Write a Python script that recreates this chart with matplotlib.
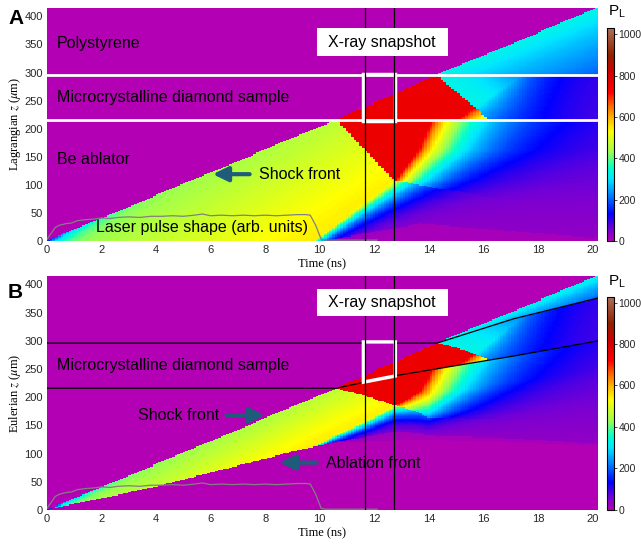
import numpy as np
import matplotlib.pyplot as plt
from matplotlib.colors import LinearSegmentedColormap
from matplotlib.patches import Rectangle, Polygon

plt.rcParams['font.family'] = ['Liberation Sans', 'DejaVu Sans']
plt.rcParams['mathtext.fontset'] = 'stix'

# ---- values ----
time_ticks = [0, 2, 4, 6, 8, 10, 12, 14, 16, 18, 20]
z_ticks = [0, 50, 100, 150, 200, 250, 300, 350, 400]
cbar_ticks = [0, 200, 400, 600, 800, 1000]

# layer boundaries (Lagrangian, um)
be_top = 216.0
diamond_top = 296.0

# shock front (same in both frames)
shock_t = [0.0, 10.6, 14.3, 20.2]
shock_z = [0.0, 216.0, 296.0, 416.0]

# drive pressure in the Be vs emission time
drive_tau = [0.0, 0.3, 0.7, 1.2, 2.0, 3.0, 4.0, 5.0, 6.0, 7.0, 8.0, 9.0, 9.8]
drive_p = [150, 300, 380, 420, 440, 455, 470, 485, 500, 515, 530, 540, 545]
char_speed = 30.0

# reflected shock going back into the Be, and its weak tail below
refl_z = [107.0, 216.0]
refl_t = [12.75, 10.6]
refl_tail_t = [12.75, 20.2]
refl_tail_z = [107.0, 45.0]

# release after laser turn-off (Be)
head_z = [0.0, 107.0, 161.0, 216.0]
head_t = [9.8, 12.75, 13.6, 14.1]
fan_z = [0.0, 50.0, 107.0, 160.0, 216.0]
fan_width = [0.4, 0.7, 1.1, 1.6, 1.8]
end_z = [0.0, 60.0, 107.0, 216.0]
end_p = [30.0, 45.0, 60.0, 70.0]
low_t = [10.2, 13.7, 20.2]
low_z = [0.0, 30.0, 4.0]

# release in the diamond
head_dia_z = [216.0, 296.0]
head_dia_t = [15.0, 17.5]
top_rel_z = [214.0, 296.0]
top_rel_t = [16.3, 14.3]

p_red = 760.0
p_top_ratio = 0.37
p_poly = 330.0

# Eulerian positions of the ablation front and the interfaces
abl_t = [0.0, 4.0, 9.3, 10.5, 13.7, 20.2]
abl_z = [0.0, 41.0, 107.0, 119.0, 125.0, 113.0]
iface1_t = [0.0, 10.6, 12.75, 17.1, 20.2]
iface1_z = [216.0, 216.0, 238.0, 273.0, 300.0]
iface2_t = [0.0, 14.3, 17.1, 20.2]
iface2_z = [296.0, 296.0, 339.0, 376.0]
# how the Be mass is spread between ablation front and interface
warp_t = [0.0, 10.0, 12.75, 14.0, 16.0, 20.2]
warp_p = [1.0, 1.0, 1.15, 0.7, 0.8, 1.0]

# laser pulse shape (drawn in z units)
laser_t = [0, 0.3, 0.45, 0.7, 0.9, 1.1, 1.4, 1.7, 2.0, 2.3, 2.6, 3.0, 3.4, 3.8,
           4.2, 4.6, 5.0, 5.4, 5.7, 6.0, 6.4, 6.8, 7.2, 7.6, 8.0, 8.4, 8.8, 9.2,
           9.5, 9.65, 9.85, 10.05, 10.2, 12.1]
laser_z = [3, 24, 28, 31, 32, 36, 38, 39, 41, 40, 42, 43, 42, 44,
           44, 45, 44, 46, 48, 45, 46, 45, 46, 45, 46, 45, 46, 47,
           47, 46, 28, 3, 1.5, 1.5]

# X-ray snapshot window
snapshot_t = [11.65, 12.72]

# colormap
cmap_levels = [0, 60, 130, 220, 300, 350, 430, 530, 600, 660, 720, 820, 900, 1030]
cmap_colors = ['#b400b4', '#7000d8', '#0000ff', '#0080ff', '#00e8ff', '#00ffd0',
               '#9cff50', '#ffff00', '#ffb000', '#ff6000', '#ff0000', '#d00000',
               '#902000', '#b07058']


def lagrangian_pressure(t, z):
    shock = np.interp(t, shock_t, shock_z)
    # Be ablator: drive, then reflected shock, then release fan
    p_be = np.interp(t - z / char_speed, drive_tau, drive_p)
    t_refl = np.interp(z, refl_z, refl_t)
    boosted = ((z >= refl_z[0]) & (t >= t_refl)) | \
              ((t > refl_tail_t[0]) & (z >= np.interp(t, refl_tail_t, refl_tail_z)))
    p_be = np.where(boosted, p_red, p_be)
    d = np.clip(t - np.interp(z, head_z, head_t), 0, None)
    width = np.interp(z, fan_z, fan_width)
    p_end = np.interp(z, end_z, end_p)
    p_be = p_end + (p_be - p_end) * np.exp(-(d / width) ** 0.85)
    p_be = np.where(z < np.interp(t, low_t, low_z), 0.4 * p_be, p_be)
    # diamond
    d_f = np.clip(t - np.interp(z, head_dia_z, head_dia_t), 0, None)
    r_f = np.exp(-(d_f / 2.5) ** 0.85)
    d_t = t - np.interp(z, top_rel_z, top_rel_t)
    r_t = np.where(d_t > 0,
                   p_top_ratio * (0.35 + 0.65 * np.exp(-(np.clip(d_t, 0, None) / 3.5) ** 2)),
                   1.0)
    p_dia = 70.0 + (p_red - 70.0) * r_f * r_t
    # polystyrene
    d_s = np.clip(t - np.interp(z, shock_z, shock_t), 0, None)
    p_ps = p_poly * np.exp(-d_s / 12.0)

    p = np.where(z < be_top, p_be, np.where(z < diamond_top, p_dia, p_ps))
    return np.where(z <= shock, p, 0.0)


def eulerian_pressure(t, z):
    eps = 1e-9
    a = np.interp(t, abl_t, abl_z)
    s = np.interp(t, shock_t, shock_z)
    i1 = np.interp(t, iface1_t, iface1_z)
    i2 = np.interp(t, iface2_t, iface2_z)
    pw = np.interp(t, warp_t, warp_p)
    zl = z.copy()
    # Be layer
    top_e = np.minimum(i1, s)
    top_l = np.minimum(be_top, s)
    frac = np.clip((z - a) / (top_e - a + eps), 0, 1)
    zl = np.where((z >= a) & (z <= top_e), top_l * frac ** pw, zl)
    # diamond layer
    top_e = np.minimum(i2, s)
    top_l = np.minimum(diamond_top, s)
    frac = np.clip((z - i1) / (top_e - i1 + eps), 0, 1)
    zl = np.where((s > be_top) & (z > i1) & (z <= top_e),
                  be_top + frac * (top_l - be_top), zl)
    # polystyrene
    frac = np.clip((z - i2) / (s - i2 + eps), 0, 1)
    zl = np.where((s > diamond_top) & (z > i2) & (z <= s),
                  diamond_top + frac * (s - diamond_top), zl)
    p = lagrangian_pressure(t, zl)
    return np.where(z < a, 0.0, p)


def style_axes(ax, ylabel):
    ax.set_xlim(0, 20.2)
    ax.set_ylim(0, 415)
    ax.set_xticks(time_ticks)
    ax.set_yticks(z_ticks)
    ax.tick_params(length=0, labelsize=8, colors='#262626', pad=3)
    for sp in ax.spines.values():
        sp.set_visible(False)
    ax.set_xlabel('Time (ns)', family='Liberation Serif', fontsize=9, labelpad=2)
    ax.set_ylabel(ylabel, family='Liberation Serif', fontsize=9, labelpad=1)


def arrow(ax, tail, tip):
    ax.annotate('', xy=tip, xytext=tail,
                arrowprops=dict(arrowstyle='-|>,head_length=0.45,head_width=0.22',
                                lw=3, color='#1f5b7a', shrinkA=0, shrinkB=0,
                                mutation_scale=20))


def main():
    cmap = LinearSegmentedColormap.from_list(
        'pl', list(zip(np.array(cmap_levels) / cmap_levels[-1], cmap_colors)))

    t = np.linspace(0, 20.2, 203)
    z = np.linspace(0, 415, 210)
    T, Z = np.meshgrid(t, z)
    field_a = lagrangian_pressure(T, Z)
    field_b = eulerian_pressure(T, Z)

    fig = plt.figure(figsize=(6.41, 5.46), dpi=100)
    ax_a = fig.add_axes([47 / 641, 305 / 546, 551 / 641, 233 / 546])
    ax_b = fig.add_axes([47 / 641, 36 / 546, 551 / 641, 234 / 546])
    cax_a = fig.add_axes([607 / 641, 305 / 546, 6.5 / 641, 213 / 546])
    cax_b = fig.add_axes([607 / 641, 36.5 / 546, 6.5 / 641, 213 / 546])

    for ax, field, cax in [(ax_a, field_a, cax_a), (ax_b, field_b, cax_b)]:
        im = ax.imshow(field, extent=(0, 20.2, 0, 415), origin='lower', aspect='auto',
                       interpolation='nearest', cmap=cmap, vmin=0, vmax=cmap_levels[-1])
        ax.plot(laser_t, laser_z, color='#808080', lw=0.9)
        for ts in snapshot_t:
            ax.axvline(ts, color='black', lw=0.9, zorder=4)
        cb = fig.colorbar(im, cax=cax, ticks=cbar_ticks)
        cb.outline.set_linewidth(0.8)
        cax.tick_params(labelsize=7.5, length=2.5, width=0.6, colors='#262626', pad=1)

    # panel A
    ax = ax_a
    style_axes(ax, r'Lagrangian $z$ ($\mu$m)')
    ax.axhline(be_top, color='white', lw=2)
    ax.axhline(diamond_top, color='white', lw=2)
    ax.add_patch(Rectangle((snapshot_t[0] - 0.05, be_top - 2),
                           snapshot_t[1] - snapshot_t[0] + 0.1, diamond_top - be_top + 4,
                           fill=False, ec='white', lw=2.5, zorder=3))
    ax.add_patch(Rectangle((9.89, 330), 4.8, 48.5, fc='white', ec='none', zorder=5))
    ax.text(12.29, 354, 'X-ray snapshot', ha='center', va='center', fontsize=11.5, zorder=6)
    ax.text(0.35, 352, 'Polystyrene', va='center', fontsize=11.5)
    ax.text(0.35, 256, 'Microcrystalline diamond sample', va='center', fontsize=11.5)
    ax.text(0.35, 146, 'Be ablator', va='center', fontsize=11.5)
    ax.text(7.77, 119, 'Shock front', va='center', fontsize=11.5)
    arrow(ax, (7.43, 119), (6.08, 119))
    ax.text(1.8, 24, 'Laser pulse shape (arb. units)', va='center', fontsize=11.5)

    # panel B
    ax = ax_b
    style_axes(ax, r'Eulerian $z$ ($\mu$m)')
    ax.plot(iface1_t, iface1_z, color='black', lw=0.9)
    ax.plot(iface2_t, iface2_z, color='black', lw=0.9)
    y0 = np.interp(snapshot_t[0], iface1_t, iface1_z)
    y1 = np.interp(snapshot_t[1], iface1_t, iface1_z)
    ax.add_patch(Polygon([(snapshot_t[0] - 0.05, diamond_top + 2),
                          (snapshot_t[1] + 0.05, diamond_top + 2),
                          (snapshot_t[1] + 0.05, y1), (snapshot_t[0] - 0.05, y0)],
                         closed=True, fill=False, ec='white', lw=2.5, zorder=3))
    ax.add_patch(Rectangle((9.89, 344), 4.8, 47.5, fc='white', ec='none', zorder=5))
    ax.text(12.29, 368, 'X-ray snapshot', ha='center', va='center', fontsize=11.5, zorder=6)
    ax.text(0.35, 256, 'Microcrystalline diamond sample', va='center', fontsize=11.5)
    ax.text(3.35, 168, 'Shock front', va='center', fontsize=11.5)
    arrow(ax, (6.58, 168), (7.99, 168))
    ax.text(10.22, 83, 'Ablation front', va='center', fontsize=11.5)
    arrow(ax, (9.88, 84), (8.53, 84))

    fig.text(8 / 641, 1 - 18 / 546, 'A', fontsize=15, fontweight='bold', va='center')
    fig.text(8 / 641, 1 - 292 / 546, 'B', fontsize=15, fontweight='bold', va='center')
    fig.text(608 / 641, 1 - 12 / 546, r'P$_\mathregular{L}$', fontsize=11, va='center')
    fig.text(608 / 641, 1 - 282 / 546, r'P$_\mathregular{L}$', fontsize=11, va='center')

    fig.savefig('out.png', dpi=100)


if __name__ == "__main__":
    main()
